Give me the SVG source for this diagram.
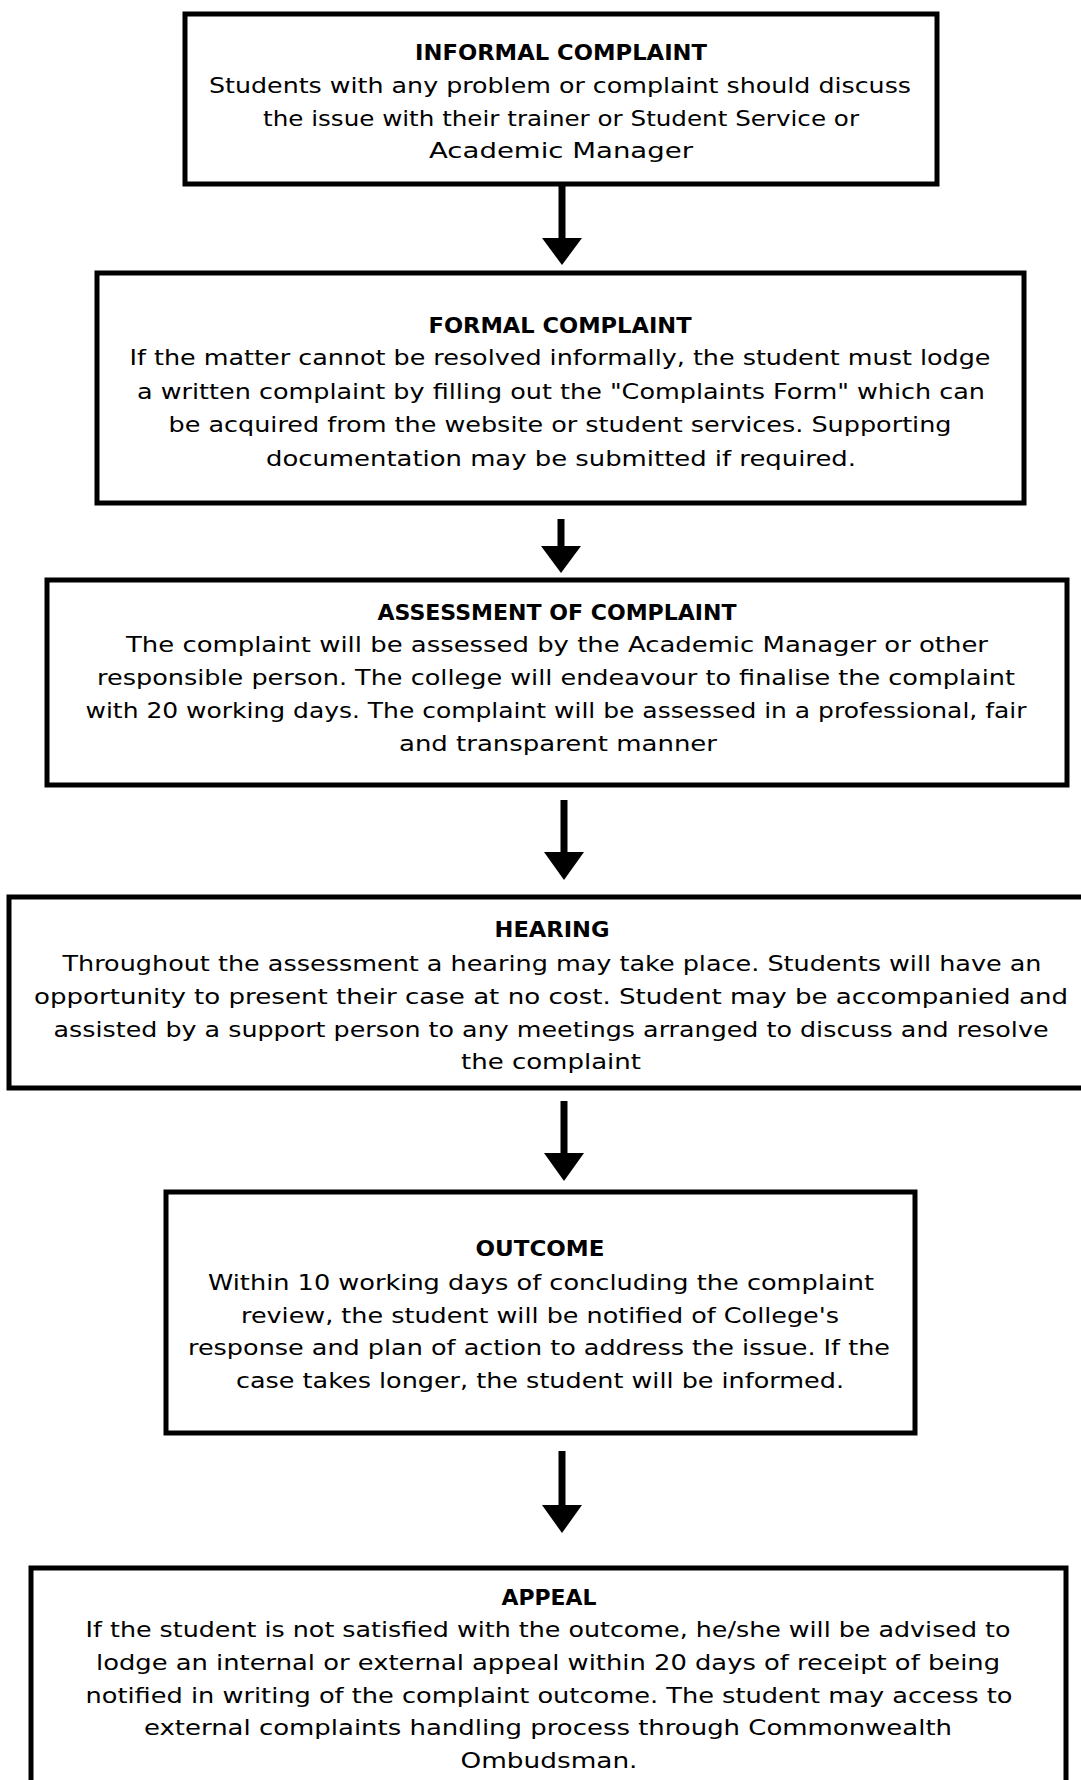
<svg xmlns="http://www.w3.org/2000/svg" width="1081" height="1780" viewBox="0 0 1081 1780">
<style>
.box{fill:#fff;stroke:#000;stroke-width:5}
.t{font-family:"DejaVu Sans",sans-serif;font-size:21px;fill:#000;text-anchor:middle}
.h{font-family:"DejaVu Sans",sans-serif;font-size:21px;font-weight:bold;fill:#000;text-anchor:middle}
.sh{stroke:#000;stroke-width:7}
.hd{fill:#000}
</style>
<rect width="1081" height="1780" fill="#fff"/>
<g id="connectors">
<line class="sh" x1="562" y1="184" x2="562" y2="240"/><polygon class="hd" points="542,238 582,238 562,265"/>
<line class="sh" x1="561" y1="519" x2="561" y2="548"/><polygon class="hd" points="541,546 581,546 561,573"/>
<line class="sh" x1="564" y1="800" x2="564" y2="854"/><polygon class="hd" points="544,852 584,852 564,880"/>
<line class="sh" x1="564" y1="1101" x2="564" y2="1155"/><polygon class="hd" points="544,1153 584,1153 564,1181"/>
<line class="sh" x1="562" y1="1451" x2="562" y2="1507"/><polygon class="hd" points="542,1505 582,1505 562,1533"/>
</g>
<g id="informal">
<rect class="box" x="185" y="14" width="752" height="170"/>
<text class="h" x="561" y="60" textLength="292" lengthAdjust="spacingAndGlyphs">INFORMAL COMPLAINT</text>
<text class="t" x="560" y="93" textLength="702" lengthAdjust="spacingAndGlyphs">Students with any problem or complaint should discuss</text>
<text class="t" x="561" y="126" textLength="596" lengthAdjust="spacingAndGlyphs">the issue with their trainer or Student Service or</text>
<text class="t" x="561" y="158" textLength="264" lengthAdjust="spacingAndGlyphs">Academic Manager</text>
</g>
<g id="formal">
<rect class="box" x="97" y="273" width="927" height="230"/>
<text class="h" x="560" y="333" textLength="263" lengthAdjust="spacingAndGlyphs">FORMAL COMPLAINT</text>
<text class="t" x="560" y="365" textLength="861" lengthAdjust="spacingAndGlyphs">If the matter cannot be resolved informally, the student must lodge</text>
<text class="t" x="561" y="399" textLength="848" lengthAdjust="spacingAndGlyphs">a written complaint by filling out the "Complaints Form" which can</text>
<text class="t" x="560" y="432" textLength="783" lengthAdjust="spacingAndGlyphs">be acquired from the website or student services. Supporting</text>
<text class="t" x="561" y="466" textLength="590" lengthAdjust="spacingAndGlyphs">documentation may be submitted if required.</text>
</g>
<g id="assessment">
<rect class="box" x="47" y="580" width="1020" height="205"/>
<text class="h" x="557" y="620" textLength="359" lengthAdjust="spacingAndGlyphs">ASSESSMENT OF COMPLAINT</text>
<text class="t" x="557" y="652" textLength="862" lengthAdjust="spacingAndGlyphs">The complaint will be assessed by the Academic Manager or other</text>
<text class="t" x="556" y="685" textLength="918" lengthAdjust="spacingAndGlyphs">responsible person. The college will endeavour to finalise the complaint</text>
<text class="t" x="556" y="718" textLength="941" lengthAdjust="spacingAndGlyphs">with 20 working days. The complaint will be assessed in a professional, fair</text>
<text class="t" x="558" y="751" textLength="318" lengthAdjust="spacingAndGlyphs">and transparent manner</text>
</g>
<g id="hearing">
<rect class="box" x="9" y="897" width="1080" height="191"/>
<text class="h" x="552" y="937" textLength="115" lengthAdjust="spacingAndGlyphs">HEARING</text>
<text class="t" x="552" y="971" textLength="979" lengthAdjust="spacingAndGlyphs">Throughout the assessment a hearing may take place. Students will have an</text>
<text class="t" x="551" y="1004" textLength="1034" lengthAdjust="spacingAndGlyphs">opportunity to present their case at no cost. Student may be accompanied and</text>
<text class="t" x="551" y="1037" textLength="995" lengthAdjust="spacingAndGlyphs">assisted by a support person to any meetings arranged to discuss and resolve</text>
<text class="t" x="551" y="1069" textLength="180" lengthAdjust="spacingAndGlyphs">the complaint</text>
</g>
<g id="outcome">
<rect class="box" x="166" y="1192" width="749" height="241"/>
<text class="h" x="540" y="1256" textLength="129" lengthAdjust="spacingAndGlyphs">OUTCOME</text>
<text class="t" x="541" y="1290" textLength="666" lengthAdjust="spacingAndGlyphs">Within 10 working days of concluding the complaint</text>
<text class="t" x="540" y="1323" textLength="598" lengthAdjust="spacingAndGlyphs">review, the student will be notified of College's</text>
<text class="t" x="539" y="1355" textLength="702" lengthAdjust="spacingAndGlyphs">response and plan of action to address the issue. If the</text>
<text class="t" x="540" y="1388" textLength="608" lengthAdjust="spacingAndGlyphs">case takes longer, the student will be informed.</text>
</g>
<g id="appeal">
<rect class="box" x="31" y="1568" width="1035" height="230"/>
<text class="h" x="549" y="1605" textLength="95" lengthAdjust="spacingAndGlyphs">APPEAL</text>
<text class="t" x="548" y="1637" textLength="925" lengthAdjust="spacingAndGlyphs">If the student is not satisfied with the outcome, he/she will be advised to</text>
<text class="t" x="548" y="1670" textLength="904" lengthAdjust="spacingAndGlyphs">lodge an internal or external appeal within 20 days of receipt of being</text>
<text class="t" x="549" y="1703" textLength="927" lengthAdjust="spacingAndGlyphs">notified in writing of the complaint outcome. The student may access to</text>
<text class="t" x="548" y="1735" textLength="808" lengthAdjust="spacingAndGlyphs">external complaints handling process through Commonwealth</text>
<text class="t" x="549" y="1768" textLength="177" lengthAdjust="spacingAndGlyphs">Ombudsman.</text>
</g>
</svg>
